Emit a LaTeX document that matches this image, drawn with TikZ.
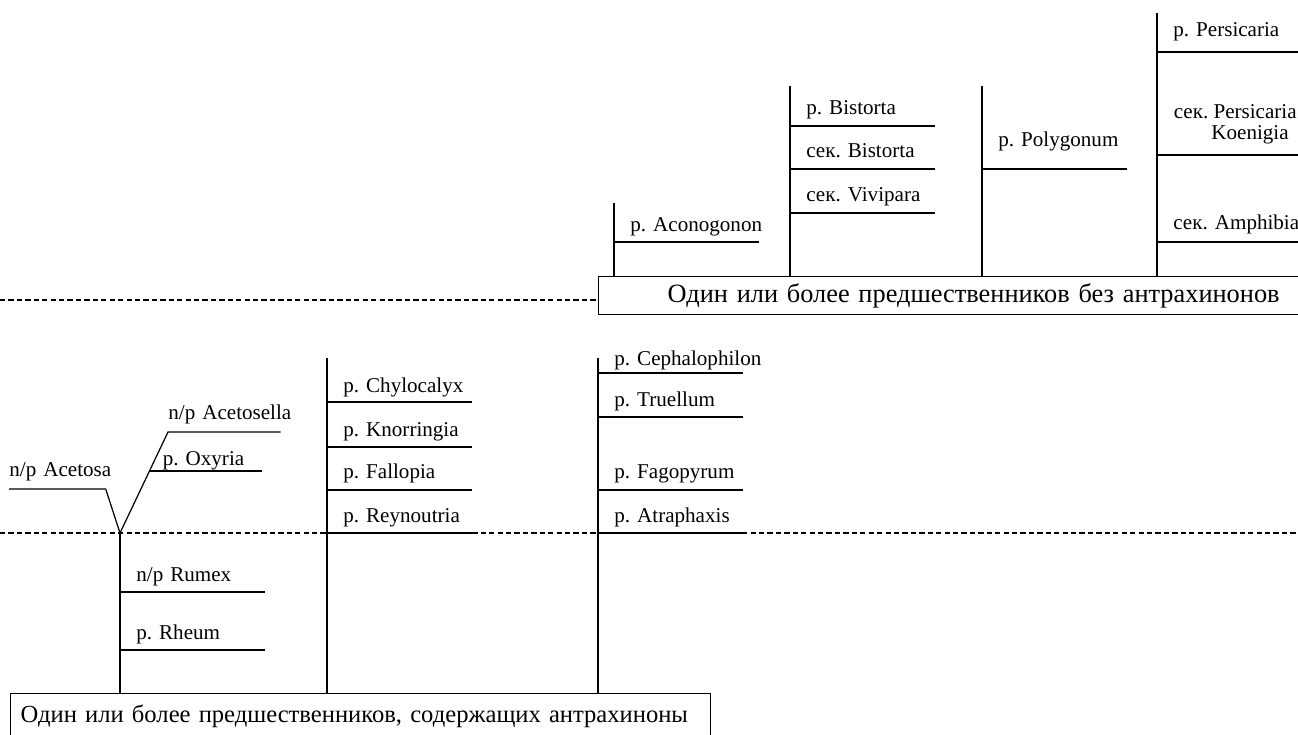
\documentclass[tikz,border=0pt]{standalone}
\usepackage{fontspec}
\setmainfont{Liberation Serif}
\frenchspacing

\begin{document}
\begin{tikzpicture} [x=0.02cm, y=-0.02cm,
        link/.style={line width=0.7pt},
        level/.style={line width=0.6pt, dash pattern=on 3pt off 1.8pt},
        rung/.style={anchor=south west, align=left, text width=2.24cm, inner xsep=0.32cm, inner ysep=0.2cm, text depth=0pt, font=\fontsize{12}{12.5}\selectfont, execute at begin node=\hbox\bgroup, execute at end node=\egroup},
        label/.style={inner sep=0pt, font=\fontsize{12}{12.5}\selectfont},
        frame/.style={draw, line width=0.8pt, anchor=north west, align=left, inner ysep=0pt}]
            \useasboundingbox (0,0) rectangle (1298,734);
            \clip (0,0) rectangle (1298,734);

            \node[frame, text width=12.5cm, inner xsep=1.38cm, minimum height=0.76cm, font=\fontsize{15}{18}\selectfont] (top) at (598,276) {Один или более предшественников без антрахинонов};
            \node[frame, text width=13.6cm, inner xsep=0.2cm, minimum height=0.92cm, font=\fontsize{14}{17}\selectfont] (bottom) at (10,693) {Один или более предшественников, содержащих антрахиноны};

            \coordinate (w1) at (0,300);
            \coordinate (w2) at (0,533);
            \coordinate (e2) at (1298,533);
            \draw[level] (w1) -- (w1 -| top.west);
            \draw[level] (w2) -- (e2);

            \coordinate (t1) at (614,203);
            \coordinate (t2) at (790,86);
            \coordinate (t3) at (982,86);
            \coordinate (t4) at (1157,13);

            \node[rung] (aco) at (614,242) {p. Aconogonon};
            \node[rung, inner ysep=0.22cm] (bis1) at (790,126) {p. Bistorta};
            \node[rung, inner ysep=0.22cm] (bis2) at (790,169) {сек. Bistorta};
            \node[rung, inner ysep=0.22cm] (bis3) at (790,213) {сек. Vivipara};
            \node[rung, inner ysep=0.44cm] (pol) at (982,169) {p. Polygonum};
            \node[rung, inner ysep=0.3cm] (per1) at (1157,52) {p. Persicaria};
            \node[label, anchor=base east] (per2) at (1297,118) {сек. Persicaria};
            \node[label, anchor=south east, inner xsep=0.18cm, inner ysep=0.3cm, text depth=0pt] (koe) at (1298,155) {Koenigia};
            \node[rung, inner ysep=0.24cm] (per3) at (1157,242) {сек. Amphibia};

            \draw[link] (t1) -- (t1 |- top.north) (t2) -- (t2 |- top.north) (t3) -- (t3 |- top.north) (t4) -- (t4 |- top.north);
            \draw[link] (aco.south west) -- (aco.south east) (bis1.south west) -- (bis1.south east) (bis2.south west) -- (bis2.south east) (bis3.south west) -- (bis3.south east);
            \draw[link] (pol.south west) -- (pol.south east) (per1.south west) -- (per1.south east) (t4 |- koe.south) -- (koe.south east) (per3.south west) -- (per3.south east);

            \coordinate (vtip) at (120,533);
            \coordinate (b2) at (327,358);
            \coordinate (b3) at (598,358);

            \node[rung, inner xsep=0pt, text width=1.92cm, inner ysep=0.24cm] (acet) at (9,489) {n/p Acetosa};
            \node[rung, inner xsep=0pt, text width=2.24cm, inner ysep=0.24cm] (acsl) at (168,432) {n/p Acetosella};
            \node[rung, inner xsep=0.26cm, text width=1.72cm, inner ysep=0.1cm] (oxy) at (149.5,471) {p. Oxyria};
            \node[rung] (rum) at (120,592) {n/p Rumex};
            \node[rung] (rhe) at (120,650) {p. Rheum};

            \node[rung, inner ysep=0.18cm] (chy) at (327,402) {p. Chylocalyx};
            \node[rung] (kno) at (327,447) {p. Knorringia};
            \node[rung, inner ysep=0.22cm] (fal) at (327,490) {p. Fallopia};
            \node[rung] (rey) at (327,533) {p. Reynoutria};

            \node[rung, inner ysep=0.14cm] (cep) at (598,373) {p. Cephalophilon};
            \node[rung] (tru) at (598,417) {p. Truellum};
            \node[rung, inner ysep=0.22cm] (fag) at (598,490) {p. Fagopyrum};
            \node[rung] (atr) at (598,533) {p. Atraphaxis};

            \draw[link] (acet.south west) -- (acet.south east) -- (vtip) -- (acsl.south west) -- (acsl.south east);
            \draw[link] (oxy.south west) -- (oxy.south east);
            \draw[link] (vtip) -- (vtip |- bottom.north) (b2) -- (b2 |- bottom.north) (b3) -- (b3 |- bottom.north);
            \draw[link] (rum.south west) -- (rum.south east) (rhe.south west) -- (rhe.south east);
            \draw[link] (chy.south west) -- (chy.south east) (kno.south west) -- (kno.south east) (fal.south west) -- (fal.south east) (rey.south west) -- (rey.south east);
            \draw[link] (cep.south west) -- (cep.south east) (tru.south west) -- (tru.south east) (fag.south west) -- (fag.south east) (atr.south west) -- (atr.south east);
        \end{tikzpicture}
\end{document}
